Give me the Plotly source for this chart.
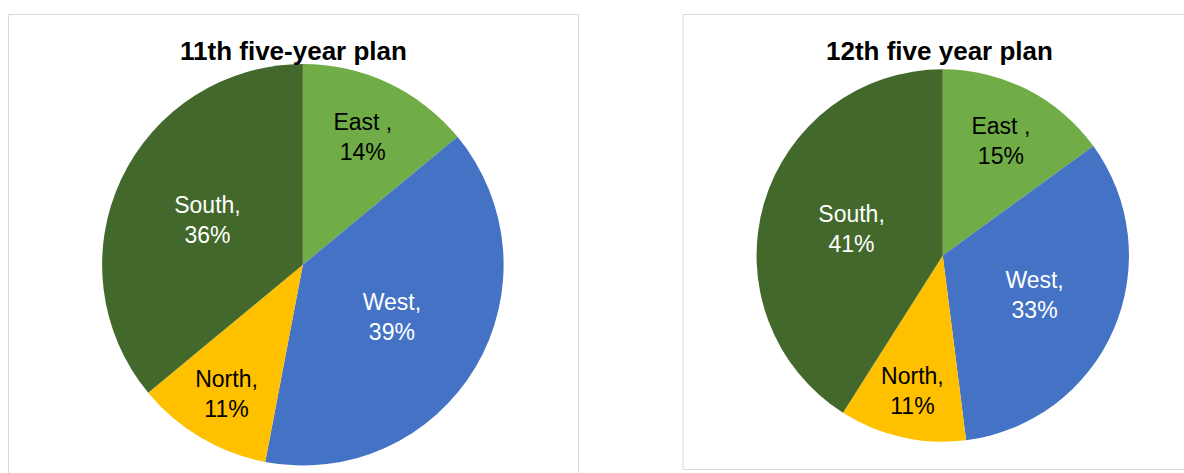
import plotly.graph_objects as go

W, H = 1184, 473

regions = ["East ", "West", "North", "South"]
plan11_values = [14, 39, 11, 36]
plan12_values = [15, 33, 11, 41]
titles = ["11th five-year plan", "12th five year plan"]

slice_colors = ["#70AD47", "#4472C4", "#FFC000", "#43682B"]
text_colors = ["#000000", "#FFFFFF", "#000000", "#FFFFFF"]
FONT = "Liberation Sans, Arial, sans-serif"


def px_x(v):
    return v / W


def px_y(v):
    return 1 - v / H


fig = go.Figure()

pie_domains = [
    dict(x=[px_x(101.7), px_x(504)], y=[px_y(465.5), px_y(64)]),
    dict(x=[px_x(756), px_x(1129.5)], y=[px_y(441.7), px_y(69.3)]),
]

for vals, dom in zip([plan11_values, plan12_values], pie_domains):
    fig.add_trace(go.Pie(
        labels=regions,
        values=vals,
        sort=False,
        direction="clockwise",
        rotation=0,
        domain=dom,
        marker=dict(colors=slice_colors, line=dict(width=0)),
        texttemplate="%{label},<br>%{value}%",
        textposition="inside",
        insidetextorientation="horizontal",
        textfont=dict(family=FONT, size=23, color=text_colors),
        insidetextfont=dict(family=FONT, size=23, color=text_colors),
        hoverinfo="label+percent",
        showlegend=False,
    ))

# chart area borders
fig.add_shape(type="rect", xref="paper", yref="paper",
              x0=px_x(8.5), x1=px_x(578.5), y0=px_y(480), y1=px_y(14.5),
              line=dict(color="#D9D9D9", width=1), fillcolor="rgba(0,0,0,0)")
fig.add_shape(type="rect", xref="paper", yref="paper",
              x0=px_x(683), x1=px_x(1200), y0=px_y(469.5), y1=px_y(14.5),
              line=dict(color="#D9D9D9", width=1), fillcolor="rgba(0,0,0,0)")

for t, cx in zip(titles, [293.5, 939]):
    fig.add_annotation(
        text=f"<b>{t}</b>", x=px_x(cx), y=px_y(51), xref="paper", yref="paper",
        xanchor="center", yanchor="middle", showarrow=False,
        font=dict(family=FONT, size=26, color="#000000"),
    )

fig.update_layout(
    width=W, height=H,
    margin=dict(l=0, r=0, t=0, b=0),
    paper_bgcolor="white", plot_bgcolor="white",
    uniformtext=dict(minsize=23, mode="show"),
)

fig.write_html(
    "out.html",
    config={"displayModeBar": False},
    post_script="document.body.style.margin='0';document.body.style.overflow='hidden';",
)
